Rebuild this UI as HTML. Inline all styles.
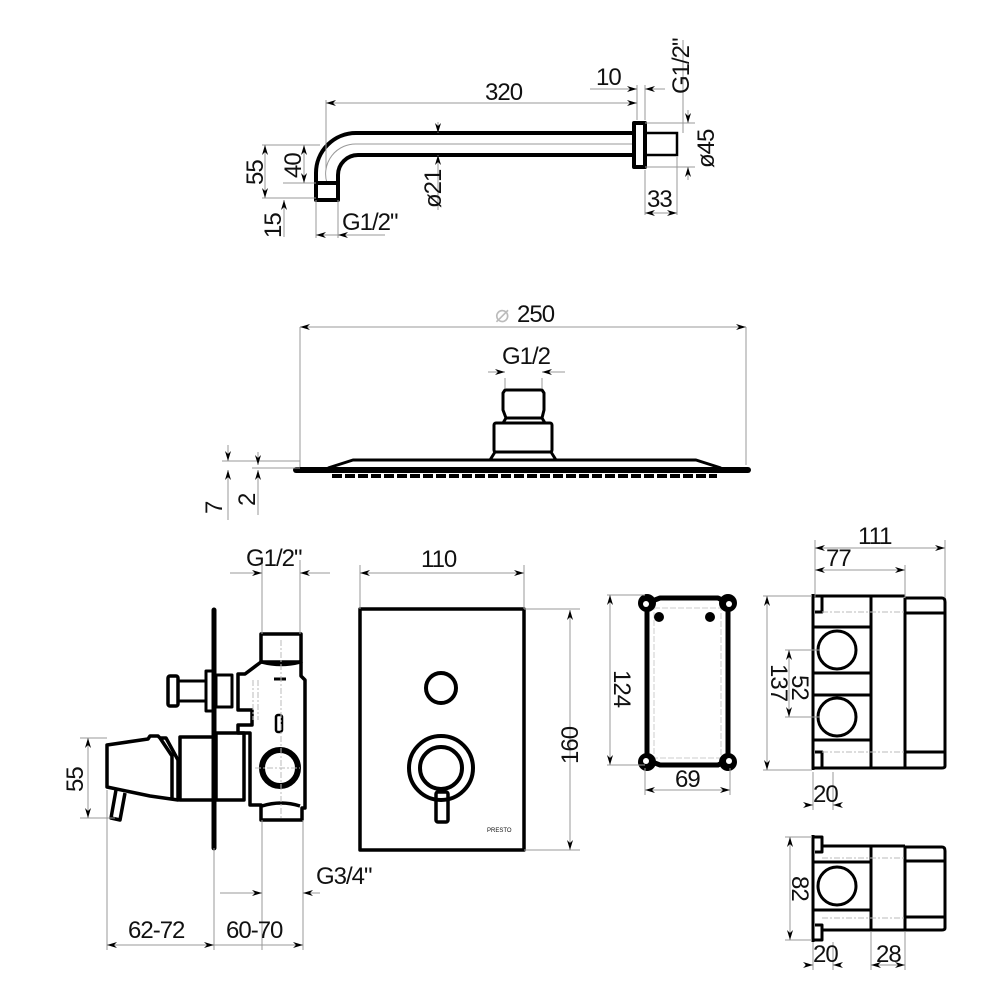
<!DOCTYPE html>
<html><head><meta charset="utf-8"><style>
html,body{margin:0;padding:0;background:#fff}
svg{display:block}
text{font-family:"Liberation Sans",sans-serif;font-size:24px;letter-spacing:-1px;fill:#111}
.t{stroke:#000;stroke-width:4;fill:none;stroke-linejoin:round}
.m{stroke:#000;stroke-width:2.5;fill:none}
.d{stroke:#999;stroke-width:1;fill:none}
.h{stroke:#bbb;stroke-width:1;fill:none;stroke-dasharray:6 2 2 2}
</style></head><body>
<svg width="1000" height="1000" viewBox="0 0 1000 1000" xmlns="http://www.w3.org/2000/svg">
<defs>
<marker id="a" viewBox="0 0 10 6" refX="10" refY="3" markerWidth="10" markerHeight="6" orient="auto-start-reverse" markerUnits="userSpaceOnUse"><path d="M0,0 L10,3 L0,6 L3,3z" fill="#000"/></marker>
</defs>

<!-- ===== Shower arm ===== -->
<path class="t" d="M316,183 L316,173 A40,40 0 0 1 356,133 L633,133"/>
<path class="t" d="M338,183 L338,175 A20,20 0 0 1 358,155 L633,155"/>
<path class="d" d="M327,183 A30,30 0 0 1 357,144 L633,144"/>
<rect class="t" x="316" y="183" width="22" height="17"/>
<rect class="t" x="634" y="123" width="11" height="44"/>
<rect class="m" x="645" y="133" width="32" height="22"/>
<path class="d" d="M326,170 L326,100 M637,120 L637,85 M645,120 L645,85 M645,170 L645,215 M677,157 L677,215 M645,123 L695,123 M645,167 L695,167 M683,133 L683,40"/>
<line class="d" x1="326" y1="103" x2="637" y2="103" marker-start="url(#a)" marker-end="url(#a)"/>
<text x="485" y="100">320</text>
<line class="d" x1="590" y1="89" x2="637" y2="89" marker-end="url(#a)"/>
<line class="d" x1="665" y1="89" x2="645" y2="89" marker-end="url(#a)"/>
<text x="596" y="85">10</text>
<text transform="translate(689,94) rotate(-90)">G1/2"</text>
<line class="d" x1="688" y1="110" x2="688" y2="123" marker-end="url(#a)"/>
<line class="d" x1="688" y1="180" x2="688" y2="167" marker-end="url(#a)"/>
<text transform="translate(714,168) rotate(-90)">ø45</text>
<line class="d" x1="645" y1="213" x2="677" y2="213" marker-start="url(#a)" marker-end="url(#a)"/>
<text x="647" y="207">33</text>
<line class="d" x1="438" y1="122" x2="438" y2="133" marker-end="url(#a)"/>
<line class="d" x1="438" y1="210" x2="438" y2="155" marker-end="url(#a)"/>
<text transform="translate(441,208) rotate(-90)">ø21</text>
<path class="d" d="M262,145 L320,145 M262,198 L316,198 M283,183 L316,183 M316,200 L316,238 M338,200 L338,238"/>
<line class="d" x1="265" y1="145" x2="265" y2="198" marker-start="url(#a)" marker-end="url(#a)"/>
<text transform="translate(263,185) rotate(-90)">55</text>
<line class="d" x1="304" y1="145" x2="304" y2="183" marker-start="url(#a)" marker-end="url(#a)"/>
<text transform="translate(301,178) rotate(-90)">40</text>
<line class="d" x1="284" y1="237" x2="284" y2="200" marker-end="url(#a)"/>
<text transform="translate(281,238) rotate(-90)">15</text>
<line class="d" x1="316" y1="235" x2="385" y2="235" marker-start="url(#a)"/>
<line class="d" x1="360" y1="235" x2="338" y2="235" marker-end="url(#a)"/>
<text x="342" y="230">G1/2"</text>

<!-- ===== Shower head ===== -->
<line class="d" x1="300" y1="327" x2="746" y2="327" marker-start="url(#a)" marker-end="url(#a)"/>
<path class="d" d="M300,327 L300,470 M746,327 L746,465"/>
<text x="495" y="322" style="fill:#bbb">⌀</text><text x="517" y="322">250</text>
<path d="M296,470 L748,470" stroke="#000" stroke-width="6" stroke-linecap="round"/>
<path class="t" style="stroke-width:3" d="M328,468 L353,460 L696,460 L721,468"/>
<path d="M332,476 L717,476" stroke="#000" stroke-width="4" stroke-dasharray="10 3"/>
<path class="t" style="stroke-width:3" d="M490,460 L495,452 L551,452 L556,460"/>
<rect class="t" style="stroke-width:3" x="494" y="423" width="58" height="29" rx="2"/>
<path class="t" style="stroke-width:3" d="M503,423 L506,418 L542,418 L545,423 M506,418 L503,410 L503,393 L505,390 L542,390 L544,393 L544,410 L542,418"/>
<path class="d" d="M505,378 L505,388 M542,378 L542,388"/>
<line class="d" x1="488" y1="372" x2="505" y2="372" marker-end="url(#a)"/>
<line class="d" x1="565" y1="372" x2="542" y2="372" marker-end="url(#a)"/>
<text x="502" y="364">G1/2</text>
<path class="d" d="M222,461 L300,461 M252,468 L300,468"/>
<line class="d" x1="228" y1="445" x2="228" y2="461" marker-end="url(#a)"/>
<line class="d" x1="228" y1="520" x2="228" y2="470" marker-end="url(#a)"/>
<line class="d" x1="258" y1="452" x2="258" y2="465" marker-end="url(#a)"/>
<line class="d" x1="258" y1="515" x2="258" y2="470" marker-end="url(#a)"/>
<text transform="translate(222,514) rotate(-90)">7</text>
<text transform="translate(255,506) rotate(-90)">2</text>

<!-- ===== Mixer side ===== -->
<path d="M214,610 L214,848" stroke="#000" stroke-width="5" stroke-linecap="round"/>
<rect class="t" style="stroke-width:3.5" x="261" y="634" width="40" height="28"/>
<path class="t" style="stroke-width:3.5" d="M261,662 L245,674 L238,674 L238,710 L252,710 L252,725 L238,725 L238,733 L250,733 L250,805 L261,805 L261,820 L302,820 L302,808 L305,808 L305,680 L301,676 L301,662"/>
<path class="t" style="stroke-width:3.5" d="M262,662 Q281,667 300,662 M262,806 Q281,800 300,806"/>
<circle cx="280" cy="768" r="18" class="t" style="stroke-width:6"/>
<rect x="276" y="715" width="6" height="17" rx="2" class="m"/>
<path d="M274,679 L286,679" stroke="#000" stroke-width="3"/>
<path class="h" d="M253,680 L253,720 M258,680 L258,720 M281,640 L281,820 M255,768 L300,768"/>
<rect class="t" style="stroke-width:3.5" x="168" y="676" width="10" height="30" rx="2"/>
<rect class="t" style="stroke-width:3" x="178" y="681" width="28" height="20"/>
<rect class="t" style="stroke-width:3" x="206" y="671" width="8" height="40"/>
<rect class="t" style="stroke-width:3" x="216" y="675" width="16" height="32"/>
<rect class="t" style="stroke-width:3.5" x="216" y="733" width="28" height="67"/>
<rect class="t" style="stroke-width:3.5" x="180" y="737" width="34" height="63"/>
<path class="t" style="stroke-width:3.5" d="M107,745 L148,739 L150,736 L158,736 L160,738 L166,738 L178,760 L178,800 L150,796 L107,787 Z M160,738 L172,756 L172,800"/>
<path class="t" style="stroke-width:3.5" d="M116,790 L111,818 L120,820 L125,793"/>
<path class="d" d="M262,560 L262,634 M300,560 L300,634 M214,848 L214,950 M107,790 L107,950 M262,820 L262,950 M303,820 L303,950 M240,893 L262,893 M80,738 L107,738 M80,818 L115,818"/>
<line class="d" x1="230" y1="573" x2="262" y2="573" marker-end="url(#a)"/>
<line class="d" x1="330" y1="573" x2="300" y2="573" marker-end="url(#a)"/>
<text x="246" y="566">G1/2"</text>
<line class="d" x1="88" y1="738" x2="88" y2="818" marker-start="url(#a)" marker-end="url(#a)"/>
<text transform="translate(83,792) rotate(-90)">55</text>
<line class="d" x1="107" y1="945" x2="214" y2="945" marker-start="url(#a)" marker-end="url(#a)"/>
<line class="d" x1="214" y1="945" x2="303" y2="945" marker-end="url(#a)"/>
<text x="128" y="938">62-72</text>
<text x="226" y="938">60-70</text>
<line class="d" x1="220" y1="893" x2="262" y2="893" marker-end="url(#a)"/>
<line class="d" x1="320" y1="893" x2="303" y2="893" marker-end="url(#a)"/>
<text x="316" y="884">G3/4"</text>

<!-- ===== Plate ===== -->
<rect class="t" style="stroke-width:3.5" x="360" y="609" width="164" height="241"/>
<circle cx="441" cy="688" r="15" class="t" style="stroke-width:4"/>
<circle cx="441" cy="768" r="32" class="t" style="stroke-width:4"/>
<circle cx="441" cy="768" r="21" class="t" style="stroke-width:4"/>
<rect x="436" y="792" width="12" height="30" rx="2" fill="#fff" class="t" style="stroke-width:3.5"/>
<text x="487" y="832" style="font-size:6px;letter-spacing:0">PRESTO</text>
<path class="d" d="M360,609 L360,565 M524,609 L524,565 M524,609 L580,609 M524,850 L580,850"/>
<line class="d" x1="360" y1="573" x2="524" y2="573" marker-start="url(#a)" marker-end="url(#a)"/>
<text x="421" y="567">110</text>
<line class="d" x1="570" y1="610" x2="570" y2="850" marker-start="url(#a)" marker-end="url(#a)"/>
<text transform="translate(578,764) rotate(-90)">160</text>

<!-- ===== Box 1 ===== -->
<path class="t" style="stroke-width:5" d="M647,603 L647,760 L660,765 L718,765 L728,760 L728,603 L718,598 L660,598 Z"/>
<rect x="654" y="608" width="67" height="150" fill="none" stroke="#ccc" stroke-dasharray="6 2"/>
<g fill="#000">
<circle cx="647" cy="603" r="9"/><circle cx="728" cy="603" r="9"/>
<circle cx="647" cy="762" r="9"/><circle cx="728" cy="762" r="9"/>
<circle cx="659" cy="617" r="5"/><circle cx="710" cy="617" r="5"/>
</g>
<g fill="#fff"><circle cx="646" cy="604" r="3"/><circle cx="729" cy="604" r="3"/><circle cx="646" cy="761" r="3"/><circle cx="729" cy="761" r="3"/></g>
<path class="d" d="M607,595 L645,595 M607,765 L645,765 M645,768 L645,795 M730,768 L730,795"/>
<line class="d" x1="610" y1="595" x2="610" y2="765" marker-start="url(#a)" marker-end="url(#a)"/>
<text transform="translate(614,670) rotate(90)">124</text>
<line class="d" x1="645" y1="790" x2="730" y2="790" marker-start="url(#a)" marker-end="url(#a)"/>
<text x="675" y="787">69</text>

<!-- ===== Box 2 ===== -->
<g class="t" style="stroke-width:3">
<path d="M813,594 L813,770 M813,596 L905,596 M813,768 L905,768 M871,596 L871,768 M905,598 L905,768"/>
<path d="M905,598 L942,598 Q945,598 945,602 L945,766 Q945,768 942,768 L905,768 M905,613 L945,613 M905,752 L945,752"/>
<path d="M813,596 L822,596 L822,612 L815,612 M813,768 L822,768 L822,752 L815,752"/>
<path d="M813,627 L871,627 M813,673 L871,673 M813,695 L871,695 M813,740 L871,740"/>
<circle cx="837" cy="650" r="19"/><circle cx="837" cy="717" r="19"/>
</g>
<path class="h" d="M822,612 L905,612 M822,752 L905,752"/>
<path class="d" d="M815,598 L815,540 M905,598 L905,565 M945,598 L945,540 M763,596 L812,596 M763,770 L812,770 M785,650 L820,650 M785,717 L820,717 M813,772 L813,810 M833,772 L833,810"/>
<line class="d" x1="815" y1="548" x2="945" y2="548" marker-start="url(#a)" marker-end="url(#a)"/>
<text x="858" y="544">111</text>
<line class="d" x1="815" y1="570" x2="905" y2="570" marker-start="url(#a)" marker-end="url(#a)"/>
<text x="826" y="566">77</text>
<line class="d" x1="767" y1="596" x2="767" y2="770" marker-start="url(#a)" marker-end="url(#a)"/>
<text transform="translate(771,664) rotate(90)">137</text>
<line class="d" x1="789" y1="650" x2="789" y2="717" marker-start="url(#a)" marker-end="url(#a)"/>
<text transform="translate(792,675) rotate(90)">52</text>
<line class="d" x1="805" y1="805" x2="813" y2="805" marker-end="url(#a)"/>
<line class="d" x1="841" y1="805" x2="833" y2="805" marker-end="url(#a)"/>
<text x="813" y="802">20</text>

<!-- ===== Box 3 ===== -->
<g class="t" style="stroke-width:3">
<path d="M813,835 L813,942 M813,837 L822,837 L822,852 L815,852 M813,940 L822,940 L822,925 L815,925"/>
<path d="M822,846 L905,846 M822,930 L905,930 M871,846 L871,930 M905,846 L905,930 M813,862 L871,862 M813,910 L871,910"/>
<path d="M905,847 L942,847 Q945,847 945,851 L945,928 Q945,930 942,930 L905,930 M905,861 L945,861 M905,917 L945,917"/>
<circle cx="837" cy="886" r="19"/>
</g>
<path class="h" d="M822,858 L905,858 M822,918 L905,918"/>
<path class="d" d="M785,837 L812,837 M785,940 L812,940 M813,942 L813,970 M833,942 L833,970 M871,932 L871,970 M905,932 L905,970"/>
<line class="d" x1="790" y1="837" x2="790" y2="940" marker-start="url(#a)" marker-end="url(#a)"/>
<text transform="translate(792,876) rotate(90)">82</text>
<line class="d" x1="805" y1="965" x2="813" y2="965" marker-end="url(#a)"/>
<line class="d" x1="841" y1="965" x2="833" y2="965" marker-end="url(#a)"/>
<text x="813" y="962">20</text>
<line class="d" x1="871" y1="965" x2="905" y2="965" marker-start="url(#a)" marker-end="url(#a)"/>
<text x="876" y="962">28</text>
</svg>
</body></html>
